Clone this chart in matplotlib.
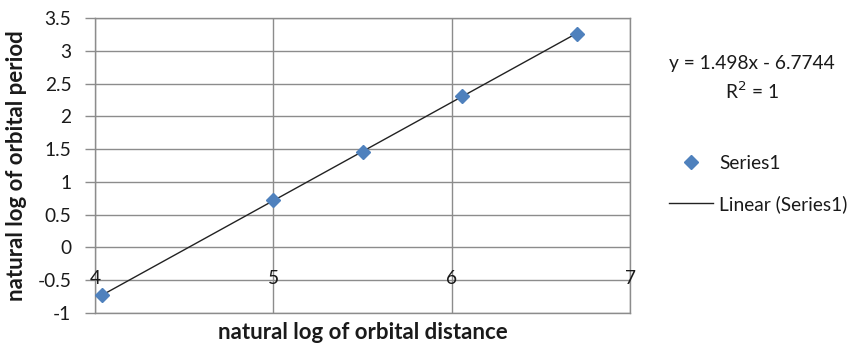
import numpy as np
import matplotlib
matplotlib.use('Agg')
import matplotlib.pyplot as plt

# natural log values
ln_distance = [4.04, 5.00, 5.50, 6.06, 6.70]
ln_period = [-0.73, 0.72, 1.46, 2.31, 3.26]

x_ticks = [4, 5, 6, 7]
y_ticks = [-1, -0.5, 0, 0.5, 1, 1.5, 2, 2.5, 3, 3.5]

plt.rcParams['font.family'] = ['Lato', 'DejaVu Sans']

fig = plt.figure(figsize=(8.54, 3.45), dpi=100)
ax = fig.add_axes([95 / 854, 1 - 313 / 345, 535 / 854, 295 / 345])

grid_col = '#8c8c8c'
txt_col = '#1a1a1a'
fs = 13.8
ax.set_xlim(4, 7)
ax.set_ylim(-1, 3.5)
ax.set_xticks(x_ticks)
ax.set_yticks(y_ticks)
ax.set_yticklabels([f'{v:g}' for v in y_ticks], fontsize=fs, color=txt_col)
ax.set_xticklabels([])
ax.tick_params(axis='x', length=0)
ax.tick_params(axis='y', length=7, width=1, color=grid_col, pad=10)
ax.grid(True, color=grid_col, linewidth=1)
ax.set_axisbelow(True)
for s in ax.spines.values():
    s.set_color(grid_col)
    s.set_linewidth(1)

# x tick labels sit on the -0.5 line in the original
for xv in x_ticks:
    ax.text(xv, -0.47, str(xv), ha='center', va='center', fontsize=fs,
            color=txt_col, clip_on=False)

# linear trendline
slope, intercept = np.polyfit(ln_distance, ln_period, 1)
xs = np.array([min(ln_distance), max(ln_distance)])
trend, = ax.plot(xs, slope * xs + intercept, color='#222222', linewidth=1,
                 label='Linear (Series1)')
pts, = ax.plot(ln_distance, ln_period, linestyle='none', marker='D', markersize=6.8,
               color='#4f81bd', label='Series1', zorder=3)

ax.set_xlabel('natural log of orbital distance', fontsize=16, fontweight='bold',
              color=txt_col)
ax.xaxis.set_label_coords(0.5, -0.03)
ax.set_ylabel('natural log of orbital period', fontsize=16, fontweight='bold',
              color=txt_col)
ax.yaxis.set_label_coords(-0.128, 0.5)

fig.text(752 / 854, 1 - 63 / 345, 'y = 1.498x - 6.7744', ha='center', va='center',
         fontsize=fs, color=txt_col)
fig.text(752 / 854, 1 - 91 / 345, 'R$^2$ = 1', ha='center', va='center',
         fontsize=fs, color=txt_col)

fig.legend(handles=[pts, trend], loc='upper left',
           bbox_to_anchor=(669 / 854, 1 - 155 / 345), frameon=False,
           borderpad=0, borderaxespad=0, handlelength=2.3, handletextpad=0.3,
           labelspacing=1.2, fontsize=fs, labelcolor=txt_col)

fig.savefig('out.png', dpi=100)
